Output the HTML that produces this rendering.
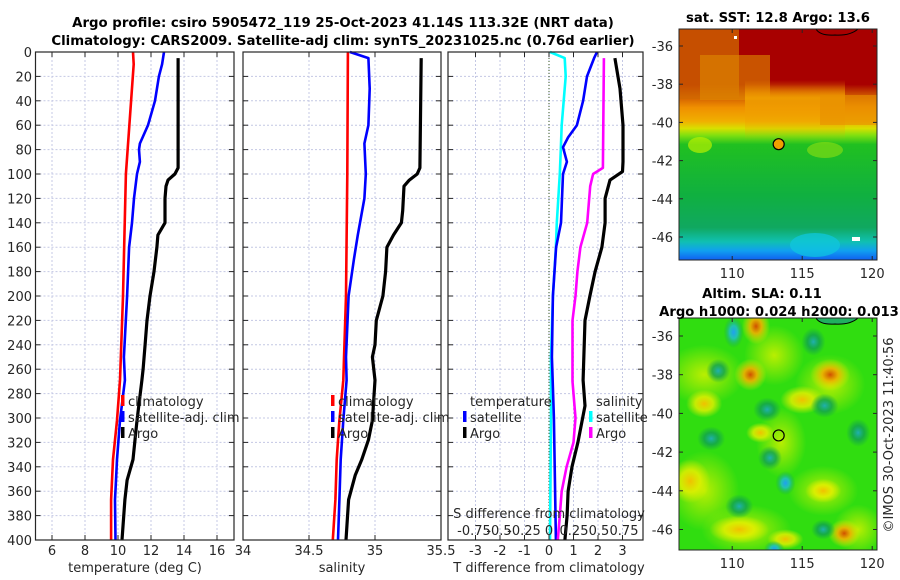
<!DOCTYPE html>
<html><head><meta charset="utf-8"><title>Argo profile</title>
<style>
html,body{margin:0;padding:0;background:#fff;}
svg{display:block;font-family:"DejaVu Sans","Liberation Sans",sans-serif;}
.t{font-size:13px;fill:#262626;}
.b{font-size:13.2px;font-weight:bold;fill:#000;}
.bt{font-size:13.3px;font-weight:bold;fill:#000;}
</style></head><body>
<svg id="fig" width="900" height="580" viewBox="0 0 900 580">
<defs>
<linearGradient id="sstg" x1="0" y1="0" x2="0" y2="1">
<stop offset="0" stop-color="#a80000"/><stop offset="0.24" stop-color="#a80000"/>
<stop offset="0.29" stop-color="#d05a00"/><stop offset="0.34" stop-color="#f09000"/>
<stop offset="0.40" stop-color="#f0b000"/><stop offset="0.43" stop-color="#d8e000"/>
<stop offset="0.46" stop-color="#80e010"/><stop offset="0.50" stop-color="#20c020"/>
<stop offset="0.72" stop-color="#10b040"/><stop offset="0.86" stop-color="#10a860"/>
<stop offset="0.92" stop-color="#10c0b0"/><stop offset="0.96" stop-color="#10a0f0"/>
<stop offset="1" stop-color="#1060f0"/></linearGradient>
<radialGradient id="gy"><stop offset="0" stop-color="#f0c000"/><stop offset="0.5" stop-color="#e8f000" stop-opacity="0.8"/><stop offset="1" stop-color="#e8f000" stop-opacity="0"/></radialGradient>
<radialGradient id="gl"><stop offset="0" stop-color="#c8f000" stop-opacity="0.9"/><stop offset="1" stop-color="#c8f000" stop-opacity="0"/></radialGradient>
<radialGradient id="go"><stop offset="0" stop-color="#d05000"/><stop offset="0.4" stop-color="#f0b000" stop-opacity="0.9"/><stop offset="1" stop-color="#e8f000" stop-opacity="0"/></radialGradient>
<radialGradient id="gt"><stop offset="0" stop-color="#20b0b0"/><stop offset="0.5" stop-color="#10a050" stop-opacity="0.8"/><stop offset="1" stop-color="#10a050" stop-opacity="0"/></radialGradient>
<radialGradient id="gc"><stop offset="0" stop-color="#20a0f0"/><stop offset="0.4" stop-color="#20c0c0" stop-opacity="0.9"/><stop offset="1" stop-color="#10a050" stop-opacity="0"/></radialGradient>
<linearGradient id="org" x1="0" y1="0" x2="0" y2="1"><stop offset="0" stop-color="#f09000" stop-opacity="0"/><stop offset="0.3" stop-color="#f0a000" stop-opacity="0.9"/><stop offset="1" stop-color="#f0a000" stop-opacity="0"/></linearGradient>
<clipPath id="c1"><rect x="679" y="29" width="198" height="231"/></clipPath>
<clipPath id="c2"><rect x="679" y="318" width="198" height="232"/></clipPath>
</defs>
<g id="root"></g>
</svg>
<script>
// ---------- data ----------
const depthTClim=[0,10,100,200,269,302,334,367,400];
const tempClim=[10.91,10.95,10.48,10.30,10.12,9.94,9.70,9.58,9.58];
const depthTSat=[0,10,20,40,60,75,80,90,100,120,140,160,200,250,269,302,334,351,367,400];
const tempSat=[12.79,12.67,12.48,12.24,11.82,11.33,11.27,11.33,11.15,10.97,10.85,10.67,10.55,10.36,10.42,10.12,9.94,9.88,9.82,9.85];
const depthTArgo=[5,95,100,105,110,120,140,150,160,180,200,220,240,260,269,302,334,351,367,400];
const tempArgo=[13.64,13.64,13.45,13.03,12.91,12.85,12.85,12.42,12.36,12.18,11.94,11.76,11.64,11.52,11.45,11.15,10.91,10.55,10.42,10.24];
const depthSClim=[0,100,200,269,302,334,367,400];
const salClim=[34.795,34.79,34.78,34.76,34.73,34.71,34.70,34.68];
const depthSSat=[0,5,30,60,75,100,120,150,170,200,250,269,302,334,367,400];
const salSat=[34.81,34.95,34.96,34.95,34.92,34.93,34.92,34.87,34.84,34.80,34.78,34.785,34.76,34.74,34.73,34.72];
const depthSArgo=[5,95,100,105,110,130,140,150,160,180,200,220,240,250,269,302,318,334,347,367,400];
const salArgo=[35.35,35.34,35.32,35.26,35.22,35.21,35.20,35.14,35.09,35.08,35.06,35.01,35.0,34.98,35.0,34.98,34.95,34.90,34.85,34.80,34.78];
const depthDTSat=[0,5,20,40,60,70,78,90,100,140,160,200,250,300,400];
const dTSat=[1.96,1.84,1.55,1.39,1.14,0.78,0.57,0.73,0.57,0.49,0.29,0.16,0.12,0.2,0.28];
const depthDSSat=[0,5,20,60,80,100,140,160,200,250,300,400];
const dSSat=[0.01,0.16,0.17,0.13,0.12,0.11,0.08,0.07,0.04,0.02,0.02,0.01];
const depthDSArgo=[5,95,100,110,140,160,180,200,220,270,300,320,340,360,380,400];
const dSArgo=[0.56,0.55,0.45,0.42,0.39,0.32,0.29,0.27,0.24,0.24,0.27,0.25,0.18,0.13,0.11,0.09];
const depthDTArgo=[5,30,60,90,98,105,120,140,160,180,200,220,269,290,320,340,360,380,400];
const dTArgo=[2.69,2.9,3.02,3.02,3.0,2.49,2.29,2.29,2.16,1.88,1.67,1.47,1.39,1.47,1.18,0.94,0.78,0.74,0.65];
const depthTicks=[0,20,40,60,80,100,120,140,160,180,200,220,240,260,280,300,320,340,360,380,400];
const tempTicks=[6,8,10,12,14,16];
const salTicks=[34.5,35];
const salTickLabels=["34","34.5","35","35.5"];
const dTTicks=[-3,-2,-1,0,1,2,3];
const dSTicks=[-0.75,-0.5,-0.25,0,0.25,0.5,0.75];
const latTicks=[-36,-38,-40,-42,-44,-46];
const lonTicks=[110,115,120];
const argoLon=113.32, argoLat=-41.14;

// ---------- helpers ----------
const NS="http://www.w3.org/2000/svg";
const root=document.getElementById('root');
function mk(tag,attrs,parent){const e=document.createElementNS(NS,tag);for(const k in attrs)e.setAttribute(k,attrs[k]);(parent||root).appendChild(e);return e;}
function txt(x,y,s,cls,anchor,parent){const e=mk('text',{x:x,y:y,class:cls,'text-anchor':anchor||'middle'},parent);e.textContent=s;return e;}
const Y=d=>52+d*(488/400);
const xT=v=>35.5+(v-5)*16.5;
const xS=v=>243+(v-34)*132;
const xD=v=>549+v*24.5;
const xDS=v=>549+v*98;
const PY0=52,PY1=540;

function panel(x0,x1,name){
  const g=mk('g',{});
  
  
  depthTicks.forEach(d=>{if(d>0&&d<400){const l=mk('line',{x1:x0,x2:x1,y1:Y(d),y2:Y(d),stroke:'#c4c8e4','stroke-width':1,'stroke-dasharray':'2,2'},g);
  
  }});
  return g;
}
function vgrid(g,x){const l=mk('line',{x1:x,x2:x,y1:PY0,y2:PY1,stroke:'#c4c8e4','stroke-width':1,'stroke-dasharray':'2,2'},g);
  
  }
function frame(g,x0,x1,xt){
  const r=mk('rect',{x:x0,y:PY0,width:x1-x0,height:PY1-PY0,fill:'none',stroke:'#262626','stroke-width':1.2},g);
  
  
  depthTicks.forEach(d=>{mk('line',{x1:x0,x2:x0+5,y1:Y(d),y2:Y(d),stroke:'#262626'},g);mk('line',{x1:x1-5,x2:x1,y1:Y(d),y2:Y(d),stroke:'#262626'},g);});
  xt.forEach(x=>{mk('line',{x1:x,x2:x,y1:PY1,y2:PY1-5,stroke:'#262626'},g);mk('line',{x1:x,x2:x,y1:PY0,y2:PY0+5,stroke:'#262626'},g);});
}
function line(g,xs,ds,fx,color,w,name){
  let p='';for(let i=0;i<xs.length;i++)p+=(i?'L':'M')+fx(xs[i]).toFixed(1)+','+Y(ds[i]).toFixed(1);
  const e=mk('path',{d:p,fill:'none',stroke:color,'stroke-width':w,'stroke-linejoin':'round'},g);
  
  
}
function legItem(g,x,y,color,label,name){
  const e=mk('g',{},g);
  
  
  mk('rect',{x:x-2,y:y-11,width:3.5,height:11,fill:color},e);
  txt(x+5,y,label,'t','start',e);
}

// titles
const t1=txt(343,27,'Argo profile: csiro 5905472_119 25-Oct-2023 41.14S 113.32E (NRT data)','bt');


const t2=txt(343,45,'Climatology: CARS2009. Satellite-adj clim: synTS_20231025.nc (0.76d earlier)','bt');



// panel 1: temperature
const g1=panel(35.5,234,'temperature-panel');
tempTicks.forEach(v=>vgrid(g1,xT(v)));
line(g1,tempClim,depthTClim,xT,'#ff0000',2.6,'temperature-climatology-line');
line(g1,tempSat,depthTSat,xT,'#0000ff',2.6,'temperature-satellite-line');
line(g1,tempArgo,depthTArgo,xT,'#000000',3.2,'temperature-argo-line');
frame(g1,35.5,234,tempTicks.map(xT));
depthTicks.forEach(d=>{const e=txt(32,Y(d)+5,String(d),'t','end');});
tempTicks.forEach(v=>{const e=txt(xT(v),555,String(v),'t');});
const xl1=txt(135,572,'temperature (deg C)','t');
legItem(g1,123,406,'#ff0000','climatology','legend-climatology');
legItem(g1,123,422,'#0000ff','satellite-adj. clim','legend-satellite-adj');
legItem(g1,123,438,'#000000','Argo','legend-argo');

// panel 2: salinity
const g2=panel(243,441,'salinity-panel');
salTicks.forEach(v=>vgrid(g2,xS(v)));
line(g2,salClim,depthSClim,xS,'#ff0000',2.6,'salinity-climatology-line');
line(g2,salSat,depthSSat,xS,'#0000ff',2.6,'salinity-satellite-line');
line(g2,salArgo,depthSArgo,xS,'#000000',3.2,'salinity-argo-line');
frame(g2,243,441,salTicks.map(xS));
salTickLabels.forEach((s,i)=>{const e=txt(xS(34+i*0.5),555,s,'t');});
const xl2=txt(342,572,'salinity','t');
legItem(g2,333,406,'#ff0000','climatology','legend-climatology');
legItem(g2,333,422,'#0000ff','satellite-adj. clim','legend-satellite-adj');
legItem(g2,333,438,'#000000','Argo','legend-argo');

// panel 3: differences
const g3=panel(448,643,'difference-panel');
dTTicks.forEach(v=>vgrid(g3,xD(v)));
const zl=mk('line',{x1:549,x2:549,y1:PY0,y2:PY1,stroke:'#3a5a20','stroke-width':1,'stroke-dasharray':'1,2'},g3);


line(g3,dSSat,depthDSSat,xDS,'#00ffff',2.6,'salinity-diff-satellite-line');
line(g3,dTSat,depthDTSat,xD,'#0000ff',2.6,'temperature-diff-satellite-line');
line(g3,dSArgo,depthDSArgo,xDS,'#ff00ff',2.6,'salinity-diff-argo-line');
line(g3,dTArgo,depthDTArgo,xD,'#000000',3.2,'temperature-diff-argo-line');
frame(g3,448,643,dTTicks.map(xD));
dTTicks.forEach(v=>{const e=txt(xD(v),555,String(v),'t');});
const xl3=txt(549,572,'T difference from climatology','t');
const sl=txt(549,518,'S difference from climatology','t');
dSTicks.forEach(v=>{const e=txt(549+v*100,535,String(v),'t');});
const lt=txt(470,406,'temperature','t','start',g3);
legItem(g3,465,422,'#0000ff','satellite','legend-temperature-satellite');
legItem(g3,465,438,'#000000','Argo','legend-temperature-argo');
const ls=txt(596,406,'salinity','t','start',g3);
legItem(g3,591,422,'#00ffff','satellite','legend-salinity-satellite');
legItem(g3,591,438,'#ff00ff','Argo','legend-salinity-argo');

// ---------- maps ----------
const lonX=lon=>679+(lon-106.2)*14;
function mapAxes(g,top,bottom,latY){
  const r=mk('rect',{x:679,y:top,width:198,height:bottom-top,fill:'none',stroke:'#262626','stroke-width':1},g);
  
  
  latTicks.forEach(l=>{const y=latY(l);mk('line',{x1:679,x2:683,y1:y,y2:y,stroke:'#262626'},g);mk('line',{x1:873,x2:877,y1:y,y2:y,stroke:'#262626'},g);
    const e=txt(673,y+5,String(l),'t','end',g);});
  lonTicks.forEach(l=>{const x=lonX(l);mk('line',{x1:x,x2:x,y1:bottom,y2:bottom-4,stroke:'#262626'},g);mk('line',{x1:x,x2:x,y1:top,y2:top+4,stroke:'#262626'},g);
    const e=txt(x,bottom+18,String(l),'t','middle',g);});
}
// SST map
const m1=mk('g',{});


const lat1=l=>46+(-36-l)*19.1;
const im1=mk('g',{'clip-path':'url(#c1)'},m1);
mk('rect',{x:679,y:29,width:198,height:231,fill:'url(#sstg)'},im1);
mk('rect',{x:679,y:29,width:60,height:70,fill:'#d06a00',opacity:0.75},im1);
mk('rect',{x:700,y:55,width:70,height:45,fill:'#e08a00',opacity:0.6},im1);
mk('rect',{x:745,y:80,width:100,height:60,fill:'url(#org)'},im1);
mk('rect',{x:820,y:95,width:57,height:30,fill:'#e89000',opacity:0.6},im1);
mk('ellipse',{cx:700,cy:145,rx:12,ry:8,fill:'#b8f000',opacity:0.7},im1);
mk('ellipse',{cx:825,cy:150,rx:18,ry:8,fill:'#90e010',opacity:0.6},im1);
mk('ellipse',{cx:815,cy:245,rx:25,ry:12,fill:'#10c8e0',opacity:0.7},im1);
mk('rect',{x:852,y:237,width:8,height:4,fill:'#fff'},im1);
mk('rect',{x:734,y:36,width:3,height:3,fill:'#fff'},im1);
mk('path',{d:'M816,29 Q820,36 835,35 Q850,36 858,29',fill:'none',stroke:'#000','stroke-width':1},im1);
mapAxes(m1,29,260,lat1);
const c1=mk('circle',{cx:lonX(argoLon),cy:lat1(argoLat),r:5.5,fill:'#f0a000',stroke:'#000','stroke-width':1.2},m1);


const mt1=txt(778,22,'sat. SST: 12.8 Argo: 13.6','b');

// SLA map
const m2=mk('g',{});


const lat2=l=>336+(-36-l)*19.35;
const im2=mk('g',{'clip-path':'url(#c2)'},m2);
mk('rect',{x:679,y:318,width:198,height:232,fill:'#30dd10'},im2);
const haze=[[108,-38,40,30],[113,-37,30,30],[117,-38.5,35,30],[108,-44,35,40],[111,-46,45,25],[116.5,-44,35,25],[113.5,-41.5,25,35],[119,-46,25,25]];
haze.forEach(b=>mk('ellipse',{cx:lonX(b[0]),cy:lat2(b[1]),rx:b[2],ry:b[3],fill:'url(#gl)'},im2));
const blobs=[[111.7,-35.5,'go',14,18],[117,-38,'go',20,16],[111.3,-38,'go',16,16],[115,-39.3,'gy',22,14],[108,-39.5,'gy',18,14],
[107,-43.5,'gy',20,22],[110.5,-46,'gy',30,14],[118,-46.2,'go',16,14],[113.8,-46.5,'gy',18,10],[116.5,-44,'gy',18,12],[112,-41,'gy',14,10],
[110.1,-35.8,'gc',10,16],[109,-37.8,'gt',12,12],[112.5,-39.8,'gt',14,12],[113.8,-43.6,'gc',10,12],[110.5,-44.8,'gt',14,12],[115.8,-36.3,'gt',12,14],
[116.6,-39.6,'gt',14,12],[108.5,-41.3,'gt',14,12],[112.7,-42.3,'gt',12,12],[116.5,-46,'gt',12,10],[113,-47,'gc',10,8],[119,-41,'gt',12,14]];
blobs.forEach(b=>mk('ellipse',{cx:lonX(b[0]),cy:lat2(b[1]),rx:b[3],ry:b[4],fill:'url(#'+b[2]+')'},im2));
mk('path',{d:'M816,318 Q820,325 835,324 Q850,325 858,318 Z',fill:'#20b060',stroke:'#000','stroke-width':1},im2);
mapAxes(m2,318,550,lat2);
const c2=mk('circle',{cx:lonX(argoLon),cy:lat2(argoLat),r:5.5,fill:'none',stroke:'#000','stroke-width':1.2},m2);


const mt2=txt(762,298,'Altim. SLA: 0.11','b');
const mt3=txt(779,316,'Argo h1000: 0.024 h2000: 0.013','b');
const cr=mk('text',{x:0,y:0,class:'t','text-anchor':'middle',transform:'translate(893,435) rotate(-90)'});
cr.textContent='©IMOS 30-Oct-2023 11:40:56';


</script>
</body></html>
